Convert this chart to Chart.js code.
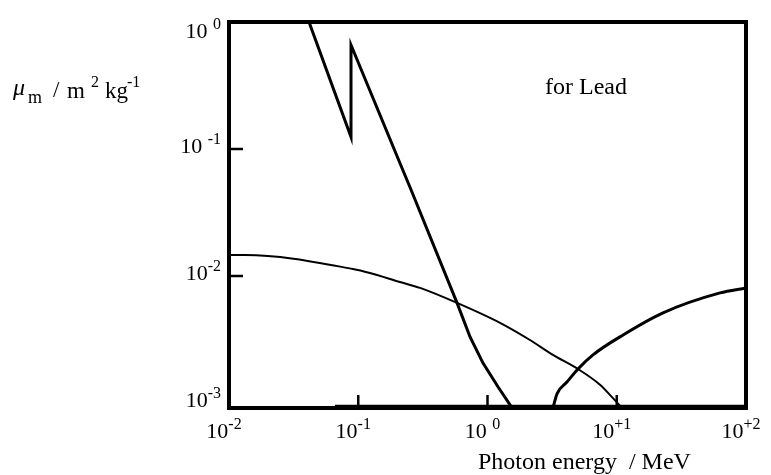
<!DOCTYPE html>
<html>
<head>
<meta charset="utf-8">
<script src="https://cdn.jsdelivr.net/npm/chart.js@4.4.1/dist/chart.umd.min.js"></script>
<style>
  html, body { margin: 0; padding: 0; background: #fff; }
  #wrap { width: 771px; height: 475px; position: relative; }
</style>
</head>
<body>
<div id="wrap"><canvas id="c" width="771" height="475"></canvas></div>
<script>
// ---- data ----
const photoEnergy = [0.0416, 0.0879, 0.0879, 0.210, 0.251, 0.581, 0.733, 0.923, 1.205, 1.549];
const photoMu     = [1.0, 0.124, 0.659, 0.0776, 0.0502, 0.00613, 0.00331, 0.00206, 0.00134, 0.000914];

const comptonEnergy = [0.0100, 0.0133, 0.0910, 0.123, 0.210, 0.301, 0.581, 1.25, 2.13, 3.21, 5.01, 7.42, 9.35, 10.99];
const comptonMu     = [0.01463, 0.01463, 0.01135, 0.01056, 0.00897, 0.00805, 0.00613, 0.00427, 0.00313, 0.00239, 0.00185, 0.00139, 0.00109, 0.000914];

const pairEnergy = [3.21, 3.45, 4.12, 5.01, 6.55, 11.2, 22.8, 63.0, 100];
const pairMu     = [0.000914, 0.00118, 0.00146, 0.00185, 0.00239, 0.00343, 0.00512, 0.00735, 0.00805];

const baseEnergy = [0.066, 100];
const baseMu     = [0.00094, 0.00094];

const xTickValues = [0.01, 0.1, 1, 10, 100];
const xTickLabels = ["10^-2", "10^-1", "10 ^0", "10^+1", "10^+2"];
const yTickValues = [1, 0.1, 0.01, 0.001];
const yTickLabels = ["10 ^0", "10 ^-1", "10^-2", "10^-3"];
const xInnerTicks = [0.1, 1, 10];
const yInnerTicks = [0.1, 0.01];

const xMin = 0.01, xMax = 100;
const yMin = Math.pow(10, -3.04), yMax = 1;

const xTitle = "Photon energy  / MeV";
const noteText = "for Lead";

function pts(xs, ys) { return xs.map((x, i) => ({ x: x, y: ys[i] })); }

const SERIF = '"Liberation Serif", "Times New Roman", serif';

function drawPower(ctx, label, x, baseline, align) {
  const parts = label.split("^");
  const base = parts[0], exp = parts[1];
  ctx.font = "22px " + SERIF;
  const wb = ctx.measureText(base).width;
  ctx.font = "16px " + SERIF;
  const we = ctx.measureText(exp).width;
  const total = wb + we;
  let left = x;
  if (align === "right") left = x - total;
  else if (align === "center") left = x - total / 2;
  ctx.textAlign = "left";
  ctx.textBaseline = "alphabetic";
  ctx.fillStyle = "#000";
  ctx.font = "22px " + SERIF;
  ctx.fillText(base, left, baseline);
  ctx.font = "16px " + SERIF;
  ctx.fillText(exp, left + wb, baseline - 9);
}

const decor = {
  id: "decor",
  afterDatasetsDraw(chart) {
    const ctx = chart.ctx;
    const a = chart.chartArea;
    const xs = chart.scales.x, ys = chart.scales.y;
    ctx.save();
    // frame
    ctx.strokeStyle = "#000";
    ctx.lineWidth = 4;
    ctx.strokeRect(a.left, a.top, a.right - a.left, a.bottom - a.top);
    // inner ticks
    ctx.lineWidth = 2.5;
    ctx.beginPath();
    yInnerTicks.forEach(v => {
      const py = ys.getPixelForValue(v);
      ctx.moveTo(a.left, py); ctx.lineTo(a.left + 14, py);
    });
    xInnerTicks.forEach(v => {
      const px = xs.getPixelForValue(v);
      ctx.moveTo(px, a.bottom); ctx.lineTo(px, a.bottom - 13);
    });
    ctx.stroke();
    // y tick labels
    yTickValues.forEach((v, i) => {
      const py = ys.getPixelForValue(v);
      const bl = Math.max(py + 4, a.top + 16);
      drawPower(ctx, yTickLabels[i], a.left - 8, bl, "right");
    });
    // x tick labels
    xTickValues.forEach((v, i) => {
      const px = xs.getPixelForValue(v);
      drawPower(ctx, xTickLabels[i], px - 5, a.bottom + 30, "center");
    });
    // x title
    ctx.font = "24px " + SERIF;
    ctx.textAlign = "left";
    ctx.fillText(xTitle, 478, 469);
    // note
    ctx.fillText(noteText, 545, 94);
    // y title: mu_m / m^2 kg^-1
    ctx.font = "italic 24px " + SERIF;
    ctx.fillText("\u03bc", 13, 95);
    ctx.font = "18px " + SERIF;
    ctx.fillText("m", 28, 103);
    ctx.font = "23px " + SERIF;
    ctx.fillText("/", 53, 97);
    ctx.fillText("m", 67, 98);
    ctx.font = "16px " + SERIF;
    ctx.fillText("2", 91, 87);
    ctx.font = "23px " + SERIF;
    ctx.fillText("kg", 105, 98);
    ctx.font = "16px " + SERIF;
    ctx.fillText("-1", 127, 87);
    ctx.restore();
  }
};

new Chart(document.getElementById("c"), {
  type: "line",
  data: {
    datasets: [
      { label: "photoelectric", data: pts(photoEnergy, photoMu), borderColor: "#000", borderWidth: 3, pointRadius: 0, tension: 0, fill: false },
      { label: "compton", data: pts(comptonEnergy, comptonMu), borderColor: "#000", borderWidth: 2, pointRadius: 0, cubicInterpolationMode: "monotone", fill: false },
      { label: "pair", data: pts(pairEnergy, pairMu), borderColor: "#000", borderWidth: 3, pointRadius: 0, cubicInterpolationMode: "monotone", fill: false },
      { label: "base", data: pts(baseEnergy, baseMu), borderColor: "#000", borderWidth: 3, pointRadius: 0, tension: 0, fill: false }
    ]
  },
  options: {
    responsive: false,
    animation: false,
    events: [],
    layout: { padding: { left: 229, right: 25, top: 22, bottom: 67 } },
    plugins: { legend: { display: false }, tooltip: { enabled: false } },
    scales: {
      x: {
        type: "logarithmic", min: xMin, max: xMax,
        ticks: { display: false }, grid: { display: false, drawTicks: false }, border: { display: false }
      },
      y: {
        type: "logarithmic", min: yMin, max: yMax,
        ticks: { display: false }, grid: { display: false, drawTicks: false }, border: { display: false }
      }
    }
  },
  plugins: [decor]
});
</script>
</body>
</html>
